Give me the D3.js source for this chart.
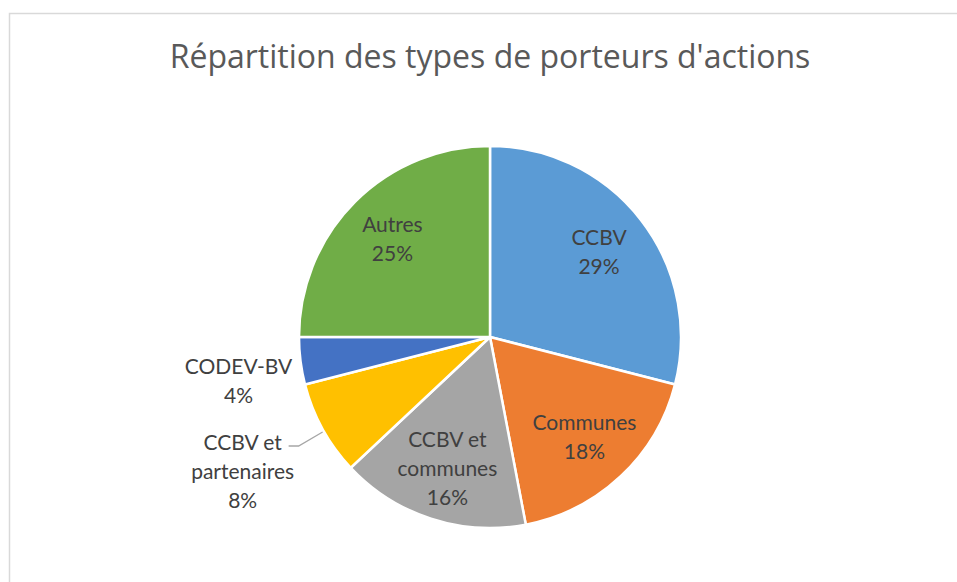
<!DOCTYPE html>
<html>
<head>
<meta charset="utf-8">
<script src="https://cdn.jsdelivr.net/npm/d3@7"></script>
<style>
  body { margin: 0; background: #fff; }
  text { font-family: Lato, "Open Sans", sans-serif; }
</style>
</head>
<body>
<div id="chart-container"></div>
<script>
// data
const categories = ["CCBV", "Communes", "CCBV et communes", "CCBV et partenaires", "CODEV-BV", "Autres"];
const values = [29, 18, 16, 8, 4, 25];
const labelLines = [["CCBV"], ["Communes"], ["CCBV et", "communes"], ["CCBV et", "partenaires"], ["CODEV-BV"], ["Autres"]];
const colors = ["#5B9BD5", "#ED7D31", "#A5A5A5", "#FFC000", "#4472C4", "#70AD47"];

const width = 957, height = 582;
const cx = 490, cy = 337, radius = 191;
const lineH = 29;

// slices whose label sits outside the pie: offset of the label centre from the slice edge
const outside = { "CCBV et partenaires": [-80, 43], "CODEV-BV": [-62, 20] };

const svg = d3.select("#chart-container").append("svg")
    .attr("width", width)
    .attr("height", height);

svg.append("rect")
    .attr("width", width).attr("height", height)
    .attr("fill", "#fff");

// chart area border
svg.append("rect")
    .attr("x", 9.5).attr("y", 13.5)
    .attr("width", width + 20).attr("height", height + 20)
    .attr("fill", "none")
    .attr("stroke", "#d9d9d9")
    .attr("stroke-width", 1.5);

svg.append("text")
    .attr("x", cx)
    .attr("y", 68)
    .attr("text-anchor", "middle")
    .style("font-family", "'Open Sans', sans-serif")
    .style("font-size", "32px")
    .attr("fill", "#595959")
    .text("Répartition des types de porteurs d'actions");

const data = categories.map((c, i) => ({ cat: c, value: values[i], lines: labelLines[i], color: colors[i] }));

const pie = d3.pie().sort(null).value(d => d.value);
const arcs = pie(data);

const arc = d3.arc().innerRadius(0).outerRadius(radius);
const labelArc = d3.arc().innerRadius(138).outerRadius(138);
const edgeArc = d3.arc().innerRadius(radius).outerRadius(radius);

const g = svg.append("g").attr("transform", `translate(${cx},${cy})`);

g.selectAll("path")
    .data(arcs)
    .enter().append("path")
    .attr("d", arc)
    .attr("fill", d => d.data.color)
    .attr("stroke", "#fff")
    .attr("stroke-width", 2.5);

g.selectAll(".lbl")
    .data(arcs)
    .enter().append("text")
    .attr("class", "lbl")
    .attr("text-anchor", "middle")
    .style("font-size", "21px")
    .attr("fill", "#404040")
    .each(function (d) {
        const off = outside[d.data.cat];
        let p = labelArc.centroid(d);
        if (off) {
            const e = edgeArc.centroid(d);
            p = [e[0] + off[0], e[1] + off[1]];
        }
        const lines = d.data.lines.concat([d.data.value + "%"]);
        const y0 = p[1] - (lines.length - 1) / 2 * lineH;
        d.labelPos = p;
        d.firstY = y0;
        lines.forEach((t, i) => {
            d3.select(this).append("tspan")
                .attr("x", p[0])
                .attr("y", y0 + i * lineH)
                .attr("dy", "0.35em")
                .text(t);
        });
    });

// leader line for the outside label that needs one
const lead = arcs.find(d => d.data.cat === "CCBV et partenaires");
const edge = edgeArc.centroid(lead);
g.append("polyline")
    .attr("points", [
        [edge[0], edge[1] + 3],
        [lead.labelPos[0] + 56, lead.firstY + 3],
        [lead.labelPos[0] + 46, lead.firstY + 3]
    ].map(p => p.join(",")).join(" "))
    .attr("fill", "none")
    .attr("stroke", "#a6a6a6")
    .attr("stroke-width", 1.3);
</script>
</body>
</html>
